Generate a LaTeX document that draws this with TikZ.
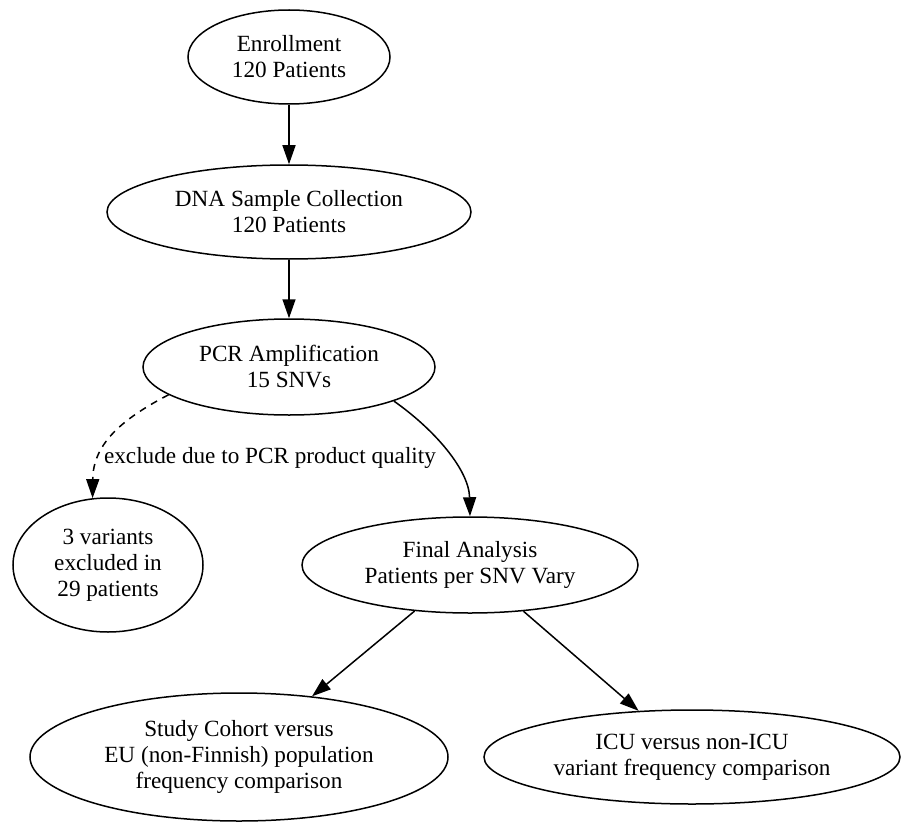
\documentclass[tikz,border=0pt]{standalone}
\usepackage{fontspec}
\setmainfont{Liberation Serif}
\usetikzlibrary{shapes.geometric,arrows.meta}
\begin{document}
\begin{tikzpicture}[x=1pt,y=-1pt,
  nd/.style={ellipse, draw, line width=1.5pt, inner sep=0pt, align=center, font=\fontsize{23.2}{26}\selectfont},
  arr/.style={line width=1.5pt, -{Triangle[length=19pt,width=13pt]}},
  lbl/.style={font=\fontsize{23.2}{26}\selectfont, inner sep=0pt}]
\useasboundingbox (0,0) rectangle (901,821);
\node[nd, minimum width=202pt, minimum height=94pt] (en) at (289,57) {Enrollment\\120 Patients};
\node[nd, minimum width=364pt, minimum height=94pt] (dna) at (289,212) {DNA Sample Collection\\120 Patients};
\node[nd, minimum width=292pt, minimum height=96pt] (pcr) at (289,367) {PCR Amplification\\15 SNVs};
\node[nd, minimum width=190pt, minimum height=134pt] (excl) at (108,565) {3 variants\\excluded in\\29 patients};
\node[nd, minimum width=336pt, minimum height=96pt] (fin) at (470,565) {Final Analysis\\Patients per SNV Vary};
\node[nd, minimum width=418pt, minimum height=128pt] (study) at (239,757) {Study Cohort versus\\EU (non-Finnish) population\\frequency comparison};
\node[nd, minimum width=416pt, minimum height=94pt] (icu) at (692,757) {ICU versus non-ICU\\variant frequency comparison};
\node[lbl] (lab) at (270,458) {exclude due to PCR product quality};
\draw[arr] (en) -- (dna);
\draw[arr] (dna) -- (pcr);
\draw[arr, dash pattern=on 7pt off 6pt] (pcr.193) .. controls (120,420) and (93,445) .. (excl.103);
\draw[arr] (pcr.-18) .. controls (435,430) and (469,470) .. (fin.north);
\draw[arr] (fin) -- (study);
\draw[arr] (fin) -- (icu);
\end{tikzpicture}
\end{document}
